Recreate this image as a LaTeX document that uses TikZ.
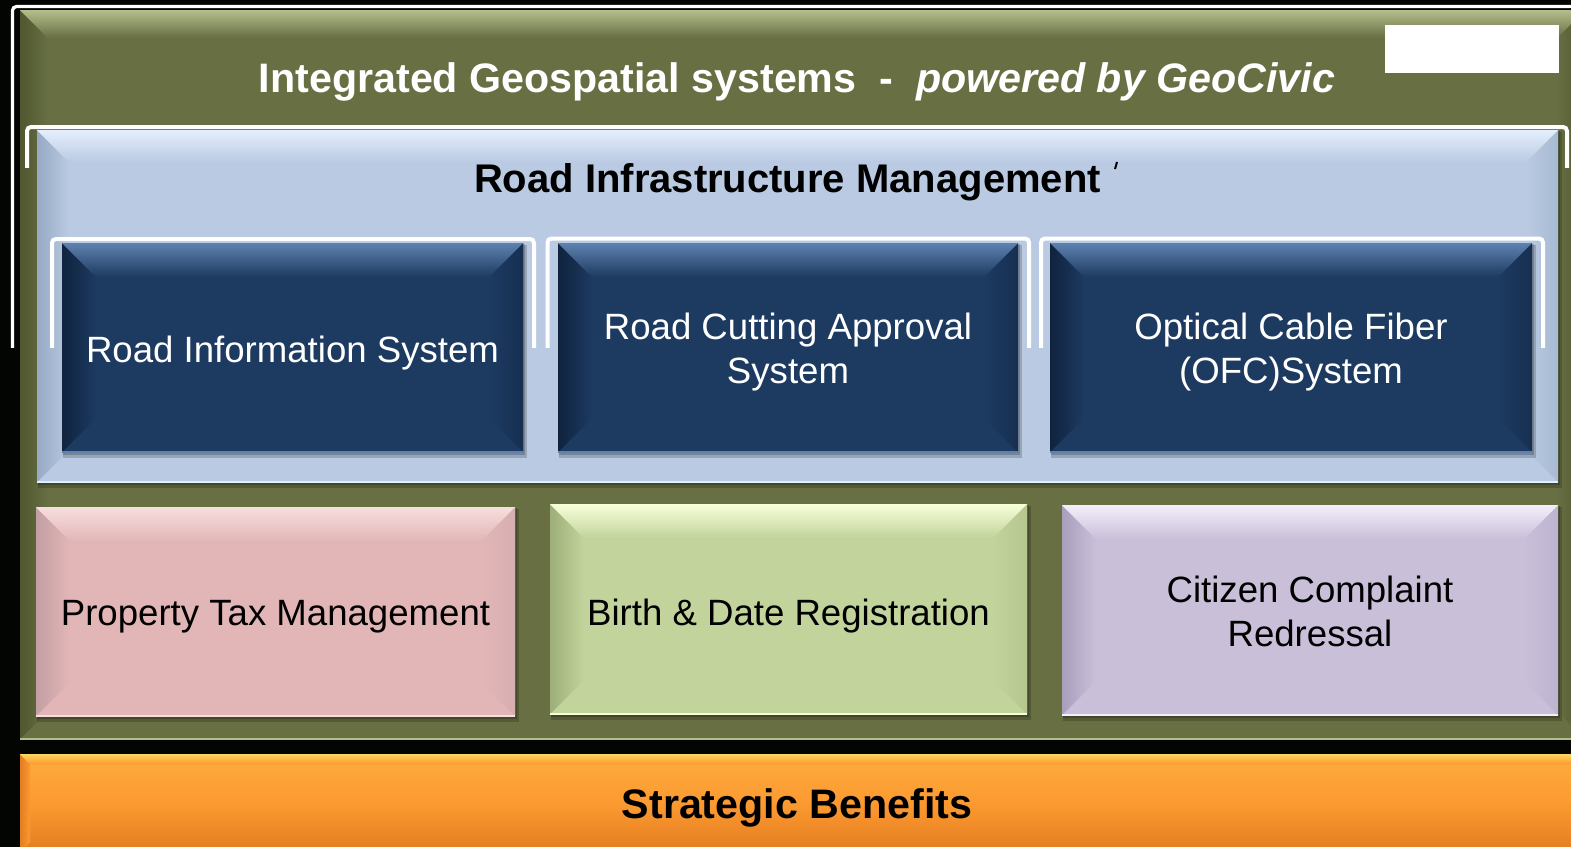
\documentclass[tikz,border=0pt]{standalone}
\usepackage{fontspec}
\setmainfont{Liberation Sans}
\definecolor{bgblack}{HTML}{030503}
\definecolor{olive}{HTML}{676F43}
\definecolor{olivelight}{HTML}{B5BE8B}
\definecolor{olivedark}{HTML}{50572F}
\definecolor{bluebox}{HTML}{B9CAE2}
\definecolor{bluelight}{HTML}{E4EFFC}
\definecolor{bluedark}{HTML}{97A9C3}
\definecolor{navy}{HTML}{1D3A61}
\definecolor{navylight}{HTML}{5E82B0}
\definecolor{navydark}{HTML}{0F233E}
\definecolor{pinkb}{HTML}{E2B6B7}
\definecolor{pinklight}{HTML}{F7DEDE}
\definecolor{pinkdark}{HTML}{C29FA3}
\definecolor{limeb}{HTML}{C2D39B}
\definecolor{limelight}{HTML}{F7FFDA}
\definecolor{limedark}{HTML}{9DAE79}
\definecolor{lilac}{HTML}{C9BFD9}
\definecolor{lilaclight}{HTML}{F3EEFB}
\definecolor{lilacdark}{HTML}{A99FBD}
\definecolor{orangeb}{HTML}{FC9A31}
\definecolor{orangelight}{HTML}{FFD65E}
\definecolor{orangedark}{HTML}{E27D20}
\tikzset{
  bev/.style n args={5}{fill=#1, draw=none, inner sep=0pt, outer sep=0pt,
    path picture={
      \coordinate (bnw) at (path picture bounding box.north west);
      \coordinate (bne) at (path picture bounding box.north east);
      \coordinate (bsw) at (path picture bounding box.south west);
      \coordinate (bse) at (path picture bounding box.south east);
      \fill[left color=#3, right color=#1] (bnw) -- ([xshift=#4,yshift=-#4]bnw) -- ([xshift=#4,yshift=#4]bsw) -- (bsw) -- cycle;
      \fill[right color=#5, left color=#1] (bne) -- ([xshift=-#4,yshift=-#4]bne) -- ([xshift=-#4,yshift=#4]bse) -- (bse) -- cycle;
      \fill[top color=#2, bottom color=#1] (bnw) -- (bne) -- ([xshift=-#4,yshift=-#4]bne) -- ([xshift=#4,yshift=-#4]bnw) -- cycle;
      \draw[#2, line width=0.8pt] (bsw) -- (bse);
    }},
  boxtxt/.style={font=\fontsize{18.3}{22}\selectfont, align=center, inner sep=0pt},
  headtxt/.style={font=\bfseries\fontsize{20.6}{24}\selectfont, inner sep=0pt},
  whitestrip/.style={white, line width=2pt, rounded corners=2pt}
}
% name, x1, y1, x2, y2, box style, text style, text, text offset
\newcommand\bxat[9]{\node[#6, minimum width={(#4-#2)*0.5pt}, minimum height={(#5-#3)*0.5pt}] (#1) at ({(#2+#4)/2},{(#3+#5)/2}) {};
  \node[#7] (#1-t) at ({(#2+#4)/2},{(#3+#5)/2+#9}) {#8};}
\newcommand\shad[4]{\fill[black,opacity=.18] (#1+1,#2+2) rectangle (#3+4,#4+6); \fill[black,opacity=.2] (#1+1,#2+1) rectangle (#3+2,#4+3);}
\begin{document}
\begin{tikzpicture}[x=0.5pt,y=-0.5pt]
\fill[bgblack] (0,0) rectangle (1571,847);
\useasboundingbox (0,0) rectangle (1571,847);
% outer white strip
\begin{scope}
\clip (0,0) rectangle (1571,347);
\draw[whitestrip, line width=1.6pt] (12.5,6.5) rectangle (1590,900);
\end{scope}
% green frame
\node[bev={olive}{olivelight}{olivedark}{14pt}{olivedark}, minimum width={1565*0.5pt}, minimum height={729*0.5pt}] (outer) at (802.5,374.5) {};
\node[white, headtxt] (title) at (797,82) {Integrated Geospatial systems\ \ -\ \ \textit{powered by GeoCivic}};
\node[fill=white, minimum width={174*0.5pt}, minimum height={48*0.5pt}, inner sep=0pt] (logo) at (1472,49) {};
% blue white strip
\begin{scope}
\clip (0,0) rectangle (1571,167);
\draw[whitestrip, line width=2pt] (27,127) rectangle (1567,900);
\end{scope}
\shad{37}{130}{1558}{482}
\node[bev={bluebox}{bluelight}{bluedark}{16pt}{bluedark!50!bluebox}, minimum width={1521*0.5pt}, minimum height={352*0.5pt}] (rim) at (797.5,306) {};
\node[headtxt, font=\bfseries\fontsize{20}{24}\selectfont, black] (rimtitle) at (787.5,182) {Road Infrastructure Management};
\draw[black, line width=1pt] (1117,162) -- (1115,169);
% dark white strips
\begin{scope}
\clip (0,0) rectangle (1571,347);
\draw[whitestrip] (52,239) rectangle (534,900);
\draw[whitestrip] (547.5,238.5) rectangle (1029,900);
\draw[whitestrip] (1041,238.5) rectangle (1543,900);
\end{scope}
\shad{62}{243}{523}{452}
\shad{558}{243}{1018}{452}
\shad{1050}{243}{1532}{452}
\bxat{ris}{62}{243}{523}{452}{bev={navy}{navylight}{navydark}{17pt}{navydark!45!navy}}{boxtxt, text=white}{Road Information System}{6}
\bxat{rcas}{558}{243}{1018}{452}{bev={navy}{navylight}{navydark}{17pt}{navydark!45!navy}}{boxtxt, text=white}{Road Cutting Approval\\System}{5}
\bxat{ofc}{1050}{243}{1532}{452}{bev={navy}{navylight}{navydark}{17pt}{navydark!45!navy}}{boxtxt, text=white}{Optical Cable Fiber\\(OFC)System}{5}
% bottom row
\shad{36}{507}{515}{716}
\shad{550}{504}{1027}{714}
\shad{1062}{505}{1558}{715}
\bxat{ptm}{36}{507}{515}{716}{bev={pinkb}{pinklight}{pinkdark}{17pt}{pinkdark!35!pinkb}}{boxtxt, text=black}{Property Tax Management}{5}
\bxat{bdr}{550}{504}{1027}{714}{bev={limeb}{limelight}{limedark}{17pt}{limedark!35!limeb}}{boxtxt, text=black}{Birth \& Date Registration}{7}
\bxat{ccr}{1062}{505}{1558}{715}{bev={lilac}{lilaclight}{lilacdark}{17pt}{lilacdark!35!lilac}}{boxtxt, text=black}{Citizen Complaint\\Redressal}{1}
% orange bar
\node[bev={orangeb}{orangelight}{orangedark}{5pt}{orangedark}, top color=orangeb!70!orangelight, bottom color=orangedark, middle color=orangeb, minimum width={1565*0.5pt}, minimum height={98*0.5pt}] (sb) at (802.5,803) {};
\node[headtxt, text=black] (sb-t) at (797,808) {Strategic Benefits};
\end{tikzpicture}
\end{document}
